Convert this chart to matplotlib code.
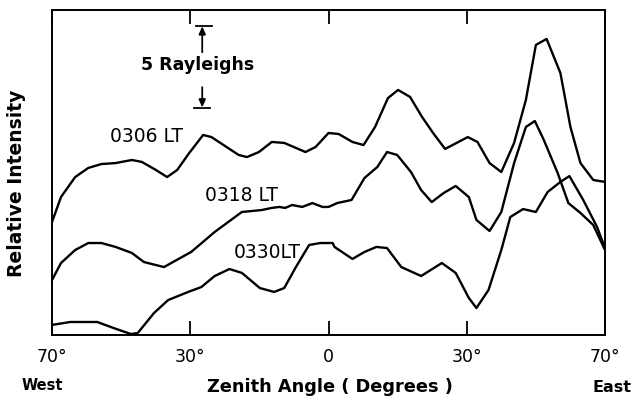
import numpy as np
import matplotlib
matplotlib.use("Agg")
import matplotlib.pyplot as plt

# Zenith angle in degrees (negative = West, positive = East)
x_0306 = [-70, -67.4, -63.3, -59.5, -55.7, -51.6, -46.9, -44.0, -39.9, -36.7, -33.8, -30.3,
          -27.2, -25.4, -19.5, -17.7, -15.1, -12.3, -9.6, -5.0, -2.8, 0, 2.2, 5.2, 7.6, 10.1,
          12.9, 15.1, 17.7, 20.3, 22.7, 25.3, 30.3, 33.1, 36.6, 40.0, 43.7, 47.1, 50.0, 53.1,
          57.1, 60.0, 62.9, 66.6, 70]
y_0306 = [6.95, 8.49, 9.72, 10.28, 10.52, 10.58, 10.77, 10.65, 10.15, 9.72, 10.15, 11.2,
          12.31, 12.18, 11.08, 10.95, 11.26, 11.88, 11.82, 11.26, 11.57, 12.43, 12.37, 11.88,
          11.69, 12.8, 14.58, 15.08, 14.65, 13.42, 12.43, 11.45, 12.18, 11.88, 10.58, 10.03,
          11.82, 14.46, 17.85, 18.22, 16.12, 12.8, 10.58, 9.54, 9.42]

x_0318 = [-70, -67.4, -63.3, -59.5, -55.7, -51.6, -46.9, -43.4, -37.6, -35.0, -29.8, -24.7,
          -18.8, -14.5, -12.3, -10.7, -9.4, -7.9, -5.7, -3.5, -1.3, 0, 1.9, 5.0, 7.8, 10.6,
          12.7, 14.9, 17.9, 20.1, 22.4, 25.0, 27.6, 30.6, 32.8, 36.6, 40.0, 43.7, 47.1, 49.7,
          52.3, 56.3, 59.4, 62.9, 66.6, 70]
y_0318 = [3.38, 4.43, 5.23, 5.66, 5.66, 5.42, 5.05, 4.49, 4.18, 4.49, 5.11, 6.34,
          7.57, 7.69, 7.82, 7.88, 7.82, 8.0, 7.88, 8.12, 7.88, 7.88, 8.12, 8.31, 9.66, 10.34,
          11.26, 11.08, 10.03, 8.92, 8.18, 8.74, 9.17, 8.49, 7.08, 6.4, 7.57, 10.58, 12.8, 13.17,
          12.0, 9.97, 8.12, 7.51, 6.77, 5.23]

x_0330 = [-70, -64.7, -56.9, -52.2, -47.2, -45.2, -40.5, -36.4, -30.6, -27.6, -24.7, -21.5,
          -18.8, -14.9, -11.8, -9.6, -7.2, -4.2, -1.8, 0.9, 1.3, 5.2, 7.8, 10.4, 12.7, 15.8,
          20.1, 24.6, 27.6, 30.6, 32.8, 36.3, 40.0, 42.6, 46.3, 50.0, 53.4, 57.1, 59.7, 63.7,
          67.7, 70]
y_0330 = [0.62, 0.8, 0.8, 0.43, 0.06, 0.12, 1.35, 2.15, 2.65, 2.95, 3.63, 4.06,
          3.82, 2.89, 2.65, 2.89, 4.12, 5.54, 5.66, 5.66, 5.42, 4.68, 5.11, 5.42, 5.35, 4.18,
          3.63, 4.43, 3.82, 2.28, 1.66, 2.77, 5.23, 7.26, 7.75, 7.57, 8.8, 9.42, 9.78, 8.31,
          6.65, 5.35]

tick_angles = [-70, -30, 0, 30, 70]
tick_labels = ["70°", "30°", "0", "30°", "70°"]
tick_pos = [0, 1, 2, 3, 4]

curve_labels = ["0306 LT", "0318 LT", "0330LT"]
label_xy = [(-42.6, 12.2), (-18.8, 8.6), (-13.3, 5.1)]

scale_R = 5
scale_x = -27.4
scale_top = 19.0

W, H = 633, 401
fig = plt.figure(figsize=(W / 100, H / 100), dpi=100)
ax = fig.add_axes([52 / W, 1 - 335 / H, (605 - 52) / W, (335 - 10) / H])

fwd = lambda v: np.interp(v, tick_angles, tick_pos)
inv = lambda u: np.interp(u, tick_pos, tick_angles)
ax.set_xscale("function", functions=(fwd, inv))
ax.set_xlim(-70, 70)
ax.set_ylim(0, 20)

for xs, ys in [(x_0306, y_0306), (x_0318, y_0318), (x_0330, y_0330)]:
    ax.plot(xs, ys, color="black", lw=1.7, solid_joinstyle="round")

for lab, (lx, ly) in zip(curve_labels, label_xy):
    ax.text(lx, ly, lab, fontsize=13.5, ha="center", va="center", family="DejaVu Sans")

# scale bar (5 Rayleighs)
bot = scale_top - scale_R
ax.annotate("", xy=(scale_x, scale_top), xytext=(scale_x, scale_top - 1.6),
            arrowprops=dict(arrowstyle="-|>,head_width=0.2,head_length=0.45", color="black", lw=1.3,
                            shrinkA=0, shrinkB=0))
ax.annotate("", xy=(scale_x, bot), xytext=(scale_x, bot + 1.25),
            arrowprops=dict(arrowstyle="-|>,head_width=0.2,head_length=0.45", color="black", lw=1.3,
                            shrinkA=0, shrinkB=0))
ax.plot([scale_x - 1.4, scale_x + 2.2], [scale_top, scale_top], color="black", lw=1.3)
ax.plot([scale_x - 1.8, scale_x + 1.6], [bot, bot], color="black", lw=1.3)
ax.text(scale_x - 0.9, (scale_top + bot) / 2 + 0.1, "5 Rayleighs", fontsize=12.5, fontweight="bold",
        ha="center", va="center")

ax.set_xticks(tick_angles)
ax.set_xticklabels(tick_labels, fontsize=12.5)
ax.set_yticks([])
ax.tick_params(axis="x", direction="in", length=10, width=1.3, top=True, pad=9)
for s in ax.spines.values():
    s.set_linewidth(1.4)

fig.text(330 / W, 1 - 387 / H, "Zenith Angle ( Degrees )", fontsize=12.8, fontweight="bold",
         ha="center", va="center")
fig.text(42 / W, 1 - 386 / H, "West", fontsize=10.5, fontweight="bold", ha="center", va="center")
fig.text(612 / W, 1 - 387 / H, "East", fontsize=11.5, fontweight="bold", ha="center", va="center")
fig.text(17 / W, 1 - 183 / H, "Relative Intensity", fontsize=13.5, fontweight="bold",
         rotation=90, ha="center", va="center")

fig.savefig("out.png", dpi=100)
